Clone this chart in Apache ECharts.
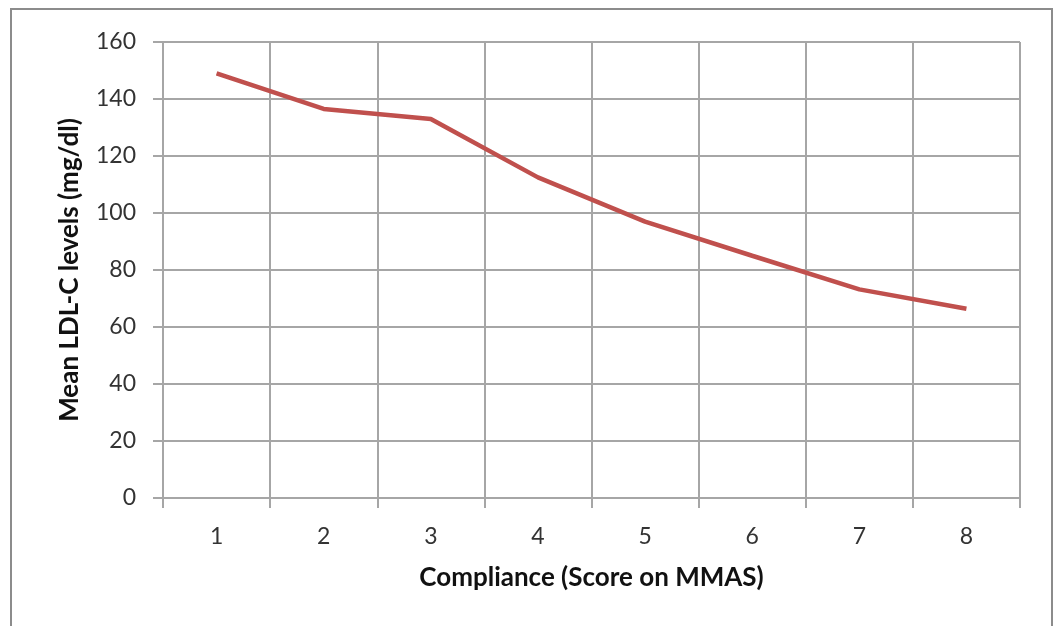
<!DOCTYPE html>
<html>
<head>
<meta charset="utf-8">
<script src="https://cdn.jsdelivr.net/npm/echarts@6/dist/echarts.min.js"></script>
<style>
  html, body { margin: 0; padding: 0; background: #fff; }
  #frame {
    position: absolute; left: 10px; top: 8px; width: 1043px; height: 630px;
    border: 2px solid #8c8c8c; box-sizing: border-box;
  }
  #chart { position: absolute; left: 0; top: 0; width: 1057px; height: 626px; }
</style>
</head>
<body>
<div id="frame"></div>
<div id="chart"></div>
<script>
  const scores = ["1", "2", "3", "4", "5", "6", "7", "8"];
  const meanLdl = [149, 136.5, 133, 112.5, 97, 85, 73.2, 66.4];
  const yTicks = { min: 0, max: 160, interval: 20 };

  const chart = echarts.init(document.getElementById("chart"));
  const font = "Lato, 'Open Sans', sans-serif";
  const gridColor = "#a6a6a6";

  const option = {
    backgroundColor: "transparent",
    animation: false,
    grid: { left: 163, right: 37, top: 42, bottom: 128 },
    xAxis: {
      type: "category",
      data: scores,
      boundaryGap: true,
      name: "Compliance (Score on MMAS)",
      nameLocation: "middle",
      nameGap: 67,
      nameTextStyle: { fontFamily: font, fontSize: 26, fontWeight: "bold", color: "#111" },
      axisLine: { lineStyle: { color: gridColor, width: 2 } },
      axisTick: { show: true, length: 10, lineStyle: { color: gridColor, width: 2 } },
      axisLabel: { margin: 27, fontFamily: font, fontSize: 23, color: "#333" },
      splitLine: { show: true, lineStyle: { color: gridColor, width: 2 } }
    },
    yAxis: {
      type: "value",
      min: yTicks.min,
      max: yTicks.max,
      interval: yTicks.interval,
      name: "Mean LDL-C levels (mg/dl)",
      nameLocation: "middle",
      nameGap: 80,
      nameTextStyle: { fontFamily: font, fontSize: 26, fontWeight: "bold", color: "#111" },
      axisLine: { show: true, lineStyle: { color: gridColor, width: 2 } },
      axisTick: { show: true, length: 10, lineStyle: { color: gridColor, width: 2 } },
      axisLabel: { margin: 27, fontFamily: font, fontSize: 23, color: "#333" },
      splitLine: { show: true, lineStyle: { color: gridColor, width: 2 } }
    },
    series: [
      {
        type: "line",
        data: meanLdl,
        showSymbol: false,
        lineStyle: { color: "#c0504d", width: 4.5 },
        itemStyle: { color: "#c0504d" }
      }
    ]
  };

  chart.setOption(option);
</script>
</body>
</html>
